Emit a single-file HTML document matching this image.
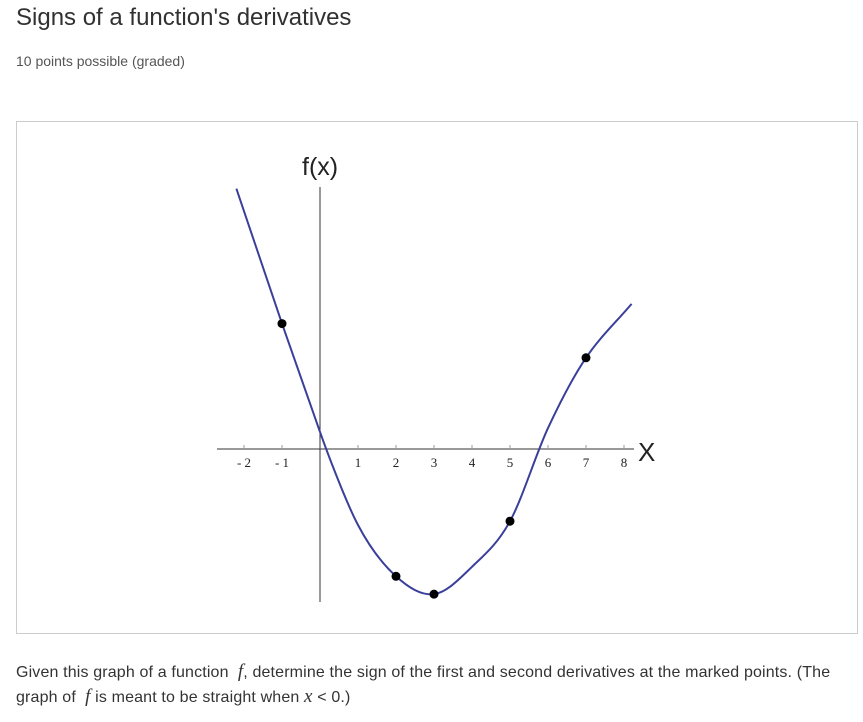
<!DOCTYPE html>
<html><head><meta charset="utf-8"><style>
body{margin:0;width:863px;height:722px;background:#fff;font-family:"Liberation Sans",sans-serif;position:relative;overflow:hidden}
#title{position:absolute;left:16px;top:4px;font-size:24px;color:#313131}
#pts{position:absolute;left:16px;top:53px;font-size:14px;color:#555}
#box{position:absolute;left:16px;top:121px;width:840px;height:511px;border:1px solid #ccc}
#q{position:absolute;left:16px;top:660px;width:840px;font-size:16px;line-height:24px;color:#333;letter-spacing:0.15px}
i.m{font-family:"Liberation Serif",serif;font-size:19px}
</style></head><body>
<div id="title">Signs of a function's derivatives</div>
<div id="pts">10 points possible (graded)</div>
<div id="box"></div>
<svg id="chart" width="863" height="722" style="position:absolute;left:0;top:0"></svg>
<div id="q">Given this graph of a function &nbsp;<i class="m">f</i>, determine the sign of the first and second derivatives at the marked points. (The graph of &nbsp;<i class="m">f</i> is meant to be straight when <i class="m">x</i> &lt; 0.)</div>
<script>
const curveX=[-2.2,-1,0,1,2,3,4,5,6,7,8.2];
const curveY=[6.85,3.3,0.45,-2.0,-3.35,-3.82,-3.1,-1.9,0.55,2.4,3.82];
const markX=[-1,2,3,5,7];
const markY=[3.3,-3.35,-3.82,-1.9,2.4];
const tickLabels=[-2,-1,1,2,3,4,5,6,7,8];
const NS="http://www.w3.org/2000/svg";
const svg=document.getElementById('chart');
const sx=v=>320+38*v, sy=v=>449-38*v;
function mk(t,a){const e=document.createElementNS(NS,t);for(const k in a)e.setAttribute(k,a[k]);svg.appendChild(e);return e;}
let e=mk('line',{x1:217,y1:449,x2:634,y2:449,stroke:'#333','stroke-width':1});

e=mk('line',{x1:320,y1:187,x2:320,y2:602,stroke:'#333','stroke-width':1});

tickLabels.forEach(v=>{
 const t=mk('line',{x1:sx(v),y1:445,x2:sx(v),y2:449,stroke:'#999'});
 
 const l=mk('text',{x:sx(v),y:467,'text-anchor':'middle','font-family':'Liberation Serif,serif','font-size':13,fill:'#222'});
 l.textContent=v<0?'- '+(-v):String(v);
 
});
e=mk('text',{x:302,y:175,'font-size':25,fill:'#222','font-family':'Liberation Sans,sans-serif'});e.textContent='f(x)';

e=mk('text',{x:638,y:461,'font-size':26,fill:'#222','font-family':'Liberation Sans,sans-serif'});e.textContent='X';

const P=curveX.map((x,i)=>[sx(x),sy(curveY[i])]);
let d='M'+P[0][0]+','+P[0][1]+' L'+P[1][0]+','+P[1][1]+' L'+P[2][0]+','+P[2][1];
for(let i=2;i<P.length-1;i++){
 const p0=P[i-1],p1=P[i],p2=P[i+1],p3=P[i+2]||[2*P[i+1][0]-P[i][0],2*P[i+1][1]-P[i][1]];
 const c1=i===2?[p1[0]+(p1[0]-P[1][0])/6*0.9,p1[1]+(p1[1]-P[1][1])/6*0.9]:[p1[0]+(p2[0]-p0[0])/6,p1[1]+(p2[1]-p0[1])/6];
 const c2=[p2[0]-(p3[0]-p1[0])/6,p2[1]-(p3[1]-p1[1])/6];
 d+=` C${c1[0]},${c1[1]} ${c2[0]},${c2[1]} ${p2[0]},${p2[1]}`;
}
e=mk('path',{d:d,fill:'none',stroke:'#3a3f9a','stroke-width':2});

markX.forEach((x,i)=>{
 const c=mk('circle',{cx:sx(x),cy:sy(markY[i]),r:4.5,fill:'#000'});
 
});
</script>
</body></html>
